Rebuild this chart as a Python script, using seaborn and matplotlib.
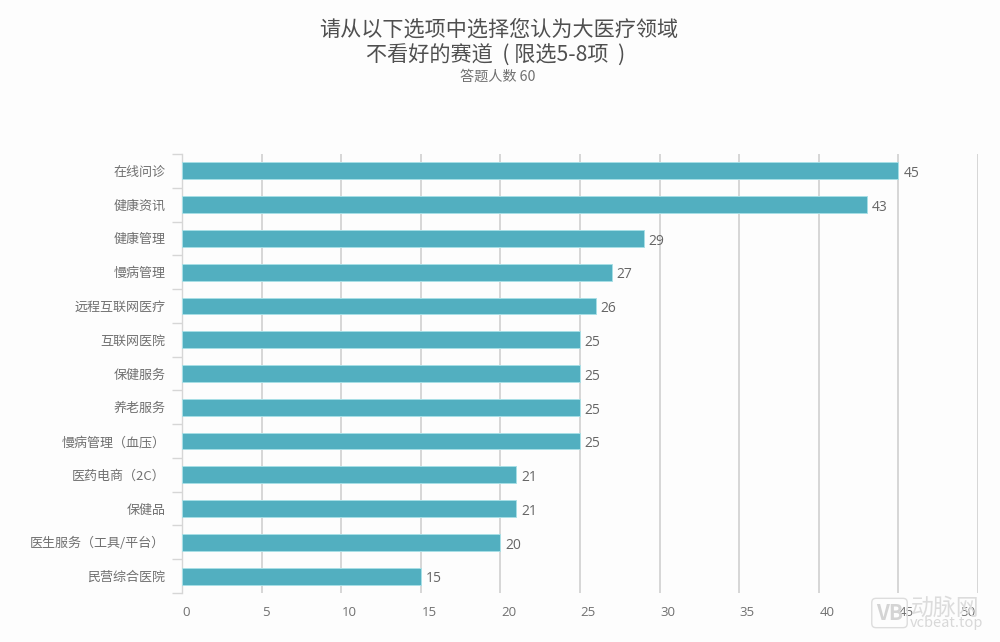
import matplotlib
matplotlib.use("Agg")
import matplotlib.pyplot as plt
import numpy as np
import pandas as pd
import seaborn as sns
from matplotlib.transforms import ScaledTranslation

categories = ["在线问诊", "健康资讯", "健康管理", "慢病管理", "远程互联网医疗", "互联网医院",
              "保健服务", "养老服务", "慢病管理（血压）", "医药电商（2C）", "保健品",
              "医生服务（工具/平台）", "民营综合医院"]
values = [45, 43, 29, 27, 26, 25, 25, 25, 25, 21, 21, 20, 15]
x_ticks = [0, 5, 10, 15, 20, 25, 30, 35, 40, 45, 50]
title_line1 = "请从以下选项中选择您认为大医疗领域"
title_line2 = "不看好的赛道  ( 限选5-8项  )"
subtitle_text = "答题人数 60"

sns.set_theme(style="white")
plt.rcParams["font.family"] = ["Noto Sans CJK SC", "DejaVu Sans"]

BG = "#fdfdfd"
fig = plt.figure(figsize=(10, 6.42), dpi=100, facecolor=BG)
ax = fig.add_axes([0.182, 1 - 593 / 642, 0.796, (593 - 154) / 642], facecolor=BG)

df = pd.DataFrame({"category": categories, "value": values})
sns.barplot(data=df, y="category", x="value", orient="h", color="#52afc0", saturation=1,
            width=0.5, ax=ax, edgecolor="#a8dfe6", linewidth=0.7, zorder=3)

ax.set_xlim(0, 50)
ax.set_ylim(len(categories) - 0.5, -0.5)
ax.set_xlabel("")
ax.set_ylabel("")
ax.set_xticks(x_ticks)
ax.grid(False)
ax.xaxis.grid(True, color="#d6d6d6", linewidth=1.4, zorder=0)
ax.set_axisbelow(True)
for s in ["top", "right", "bottom"]:
    ax.spines[s].set_visible(False)
ax.spines["left"].set_color("#d6d6d6")
ax.spines["left"].set_linewidth(1.0)

ax.set_yticks(np.arange(len(categories) + 1) - 0.5, minor=True)
ax.tick_params(axis="y", which="minor", length=7, width=1.0, color="#d6d6d6", left=True)
ax.tick_params(axis="y", which="major", length=0, pad=12, labelsize=9.4, labelcolor="#707070")
ax.tick_params(axis="x", which="major", length=0, pad=9, labelsize=9.5, labelcolor="#707070")
shift = ScaledTranslation(0.5 / 100, 0, fig.dpi_scale_trans)
xlabels = ax.get_xticklabels()
for lab in xlabels:
    lab.set_family("Open Sans")
    lab.set_horizontalalignment("left")
    lab.set_transform(lab.get_transform() + shift)
xlabels[-1].set_horizontalalignment("right")
xlabels[-1].set_transform(xlabels[-1].get_transform()
                          + ScaledTranslation(-3 / 100, 0, fig.dpi_scale_trans))

labels = ax.bar_label(ax.containers[0], padding=3.5, fontsize=10, color="#666666", family="Open Sans")
for t in labels:
    t.xyann = (t.xyann[0], -2)

fig.text(0.499, 1 - 30 / 642, title_line1, ha="center", va="center", fontsize=15.2, color="#4f4f4f")
fig.text(0.4955, 1 - 56 / 642, title_line2, ha="center", va="center", fontsize=15.2, color="#4f4f4f")
fig.text(0.498, 1 - 77 / 642, subtitle_text, ha="center", va="center", fontsize=10.2, color="#707070")

# watermark
fig.text(0.945, 1 - 608 / 642, "动脉网", ha="center", va="center", fontsize=16.5, color="#dcdcdc", zorder=5)
fig.text(0.9465, 1 - 623 / 642, "vcbeat.top", ha="center", va="center", fontsize=10.5, color="#d8d8d8", zorder=5)
fig.text(0.8895, 1 - 613 / 642, "VB", ha="center", va="center", fontsize=15, fontweight="bold", color="#d4d4d4",
         bbox=dict(boxstyle="round,pad=0.2", fc="none", ec="#dddddd", lw=1), zorder=5)

fig.savefig("out.png", dpi=100, facecolor=BG)
